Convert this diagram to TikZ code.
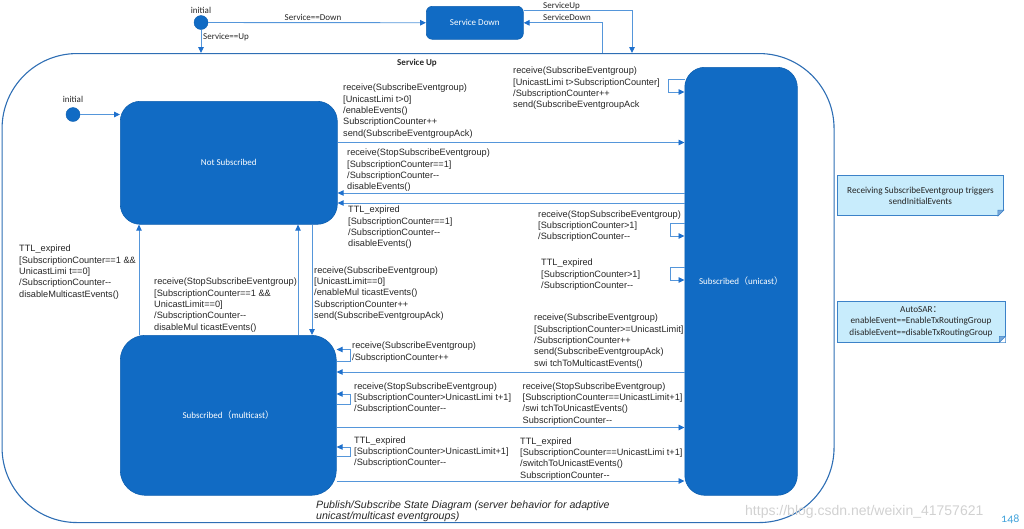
\documentclass[tikz,border=0pt]{standalone}
\usepackage{fontspec}
\setmainfont{Liberation Sans}
\newfontfamily\calfont{Carlito}
\newfontfamily\oldnum{Carlito}[Numbers=OldStyle]
\newfontfamily\cjkfont{Noto Sans CJK SC}
\usetikzlibrary{arrows.meta}
\newcommand\dm{-\kern0pt-}
\definecolor{stfill}{RGB}{17,107,196}
\definecolor{arrc}{RGB}{85,150,218}
\definecolor{tipc}{RGB}{30,112,205}
\definecolor{cont}{RGB}{46,110,180}
\definecolor{notefill}{RGB}{200,236,252}
\definecolor{notedraw}{RGB}{60,130,200}
\definecolor{numc}{RGB}{70,165,220}
\begin{document}
\begin{tikzpicture}[x=1pt,y=-1pt,
  st/.style={fill=stfill, draw=stfill!90!black, line width=0.6, text=white, font=\calfont\fontsize{9}{11}\selectfont, inner sep=0, anchor=north west},
  lbl/.style={font=\fontsize{9.2}{11.3}\selectfont, align=left, inner sep=0, anchor=north west, text=black!85},
  small/.style={font=\calfont\fontsize{9}{11}\selectfont, inner sep=0, text=black!85},
  arr/.style={draw=arrc, line width=0.9, -{Triangle[length=6pt,width=5.5pt,color=tipc]}},
  dot/.style={circle, fill=stfill, draw=stfill!90!black, minimum size=14, inner sep=0},
  note/.style={fill=notefill, draw=notedraw, line width=0.8, font=\calfont\fontsize{9.2}{11.3}\selectfont, align=center, inner sep=0, text=black!85},
  fold/.style={fill=notedraw!70, draw=notedraw, line width=0.5}
]
\useasboundingbox (0,0) rectangle (1024,528);

% container
\node[draw=cont, line width=1.1, rounded corners=75, minimum width=832, minimum height=469, inner sep=0, anchor=north west] (su) at (1.5,53) {};
\node[small, font=\calfont\bfseries\fontsize{9}{11}\selectfont, anchor=base] (sut) at (417,65.5) {Service Up};

% top part
\node[dot] (i0) at (201,22.5) {};
\node[small, anchor=base] (i0l) at (201,13.5) {initial};
\node[st, rounded corners=6, minimum width=97, minimum height=33] (sd) at (426,6) {Service Down};

\draw[arr] (i0) -- (sd);
\node[small, anchor=base] (l0a) at (313,20) {Service==Down};
\draw[arr] (i0) -- (i0 |- su.north);
\node[small, anchor=base west] (l0b) at (203,39) {Service==Up};
\draw[arr] (sd.east |- 0,10) -| (su.north -| 632,0);
\node[small, anchor=base west] (l0c) at (543,8.5) {ServiceUp};
\draw[arr] (su.north -| 602,0) |- (sd.east);
\node[small, anchor=base west] (l0d) at (543,20.5) {ServiceDown};

% states
\node[dot] (i1) at (73,114.5) {};
\node[small, anchor=base] (i1l) at (73,102) {initial};
\node[st, rounded corners=20, minimum width=217, minimum height=123] (ns) at (120,101) {Not Subscribed};
\node[st, rounded corners=25, minimum width=216, minimum height=160] (mc) at (120,335) {Subscribed{\cjkfont（}multicast{\cjkfont）}};
\node[st, rounded corners=20, minimum width=112.5, minimum height=428] (uni) at (684.5,67) {Subscribed{\cjkfont（}unicast{\cjkfont）}};

\draw[arr] (i1) -- (ns.west |- i1);

% Not Subscribed <-> unicast
\draw[arr] (ns.east |- 0,142.5) -- (uni.west |- 0,142.5);
\node[lbl] (t1) at (343,84) {receive(SubscribeEventgroup)\\{[}UnicastLimi t>0]\\/enableEvents()\\SubscriptionCounter++\\send(SubscribeEventgroupAck)};
\draw[arr] (uni.west |- 0,193) -- (ns.east |- 0,193);
\node[lbl] (t3) at (347,149) {receive(StopSubscribeEventgroup)\\{[}SubscriptionCounter==1]\\/SubscriptionCounter\dm\\disableEvents()};
\draw[arr] (uni.west |- 0,203) -- (ns.east |- 0,203);
\node[lbl] (t4) at (348,206) {TTL\_expired\\{[}SubscriptionCounter==1]\\/SubscriptionCounter\dm\\disableEvents()};

% unicast self loops
\draw[arr] (uni.west |- 0,79) -- ++(-16,0) |- (uni.west |- 0,92);
\node[lbl] (t2) at (513,67) {receive(SubscribeEventgroup)\\{[}UnicastLimi t>SubscriptionCounter]\\/SubscriptionCounter++\\send(SubscribeEventgroupAck};
\draw[arr] (uni.west |- 0,223) -- ++(-14,0) |- (uni.west |- 0,236);
\node[lbl] (t5) at (538,210.5) {receive(StopSubscribeEventgroup)\\{[}SubscriptionCounter>1]\\/SubscriptionCounter\dm};
\draw[arr] (uni.west |- 0,267) -- ++(-14,0) |- (uni.west |- 0,280);
\node[lbl] (t6) at (541,259) {TTL\_expired\\{[}SubscriptionCounter>1]\\/SubscriptionCounter\dm};

% Not Subscribed <-> multicast
\draw[arr] (mc.north -| 139,0) -- (ns.south -| 139,0);
\node[lbl] (t7) at (19,245) {TTL\_expired\\{[}SubscriptionCounter==1 \&\&\\UnicastLimi t==0]\\/SubscriptionCounter\dm\\disableMulticastEvents()};
\draw[arr] (mc.north -| 298,0) -- (ns.south -| 298,0);
\node[lbl] (t8) at (154,278) {receive(StopSubscribeEventgroup)\\{[}SubscriptionCounter==1 \&\&\\UnicastLimit==0]\\/SubscriptionCounter\dm\\disableMul ticastEvents()};
\draw[arr] (ns.south -| 312,0) -- (mc.north -| 312,0);
\node[lbl] (t9) at (314,266.5) {receive(SubscribeEventgroup)\\{[}UnicastLimit==0]\\/enableMul ticastEvents()\\SubscriptionCounter++\\send(SubscribeEventgroupAck)};

% multicast self loops
\draw[arr] (mc.east |- 0,361) -- ++(14,0) |- (mc.east |- 0,349.5);
\node[lbl] (t10) at (352,342) {receive(SubscribeEventgroup)\\/SubscriptionCounter++};
\draw[arr] (mc.east |- 0,404) -- ++(14,0) |- (mc.east |- 0,394);
\node[lbl] (t12) at (354,382.5) {receive(StopSubscribeEventgroup)\\{[}SubscriptionCounter>UnicastLimi t+1]\\/SubscriptionCounter\dm};
\draw[arr] (mc.east |- 0,456) -- ++(14,0) |- (mc.east |- 0,447);
\node[lbl] (t14) at (354,436.5) {TTL\_expired\\{[}SubscriptionCounter>UnicastLimit+1]\\/SubscriptionCounter\dm};

% multicast <-> unicast
\draw[arr] (uni.west |- 0,372) -- (mc.east |- 0,372);
\node[lbl] (t11) at (534,314) {receive(SubscribeEventgroup)\\{[}SubscriptionCounter>=UnicastLimit]\\/SubscriptionCounter++\\send(SubscribeEventgroupAck)\\swi tchToMulticastEvents()};
\draw[arr] (mc.east |- 0,427.5) -- (uni.west |- 0,427.5);
\node[lbl] (t13) at (522.5,382.5) {receive(StopSubscribeEventgroup)\\{[}SubscriptionCounter==UnicastLimit+1]\\/swi tchToUnicastEvents()\\SubscriptionCounter\dm};
\draw[arr] (mc.east |- 0,481) -- (uni.west |- 0,481);
\node[lbl] (t15) at (520,437.5) {TTL\_expired\\{[}SubscriptionCounter==UnicastLimi t+1]\\/switchToUnicastEvents()\\SubscriptionCounter\dm};

% caption
\node[lbl, font=\itshape\fontsize{10.6}{10.8}\selectfont] (cap) at (316,501) {Publish/Subscribe State Diagram (server behavior for adaptive\\unicast/multicast eventgroups)};

% notes
\node[note, minimum width=166, minimum height=40] (n1) at (920.5,195.7) {Receiving SubscribeEventgroup triggers\\sendInitialEvents};
\fill[white] (n1.south east) -- ([yshift=6pt]n1.south east) -- ([xshift=-6pt]n1.south east) -- cycle;
\draw[fold] ([yshift=6pt]n1.south east) -- ([xshift=-6pt]n1.south east) -- ([xshift=-6pt,yshift=6pt]n1.south east) -- cycle;
\node[note, minimum width=168, minimum height=41] (n2) at (921,321.5) {AutoSAR{\cjkfont ：}\\enableEvent==EnableTxRoutingGroup\\disableEvent==disableTxRoutingGroup};
\fill[white] (n2.south east) -- ([yshift=6pt]n2.south east) -- ([xshift=-6pt]n2.south east) -- cycle;
\draw[fold] ([yshift=6pt]n2.south east) -- ([xshift=-6pt]n2.south east) -- ([xshift=-6pt,yshift=6pt]n2.south east) -- cycle;

% watermark and page number
\node[font=\fontsize{14}{16}\selectfont, text=black!18, anchor=base west, inner sep=0] (wm) at (745,515) {https://blog.csdn.net/weixin\_41757621};
\node[font=\oldnum\fontsize{12}{12}\selectfont, text=numc, anchor=base west, inner sep=0] (pg) at (1001,522) {148};
\end{tikzpicture}
\end{document}
